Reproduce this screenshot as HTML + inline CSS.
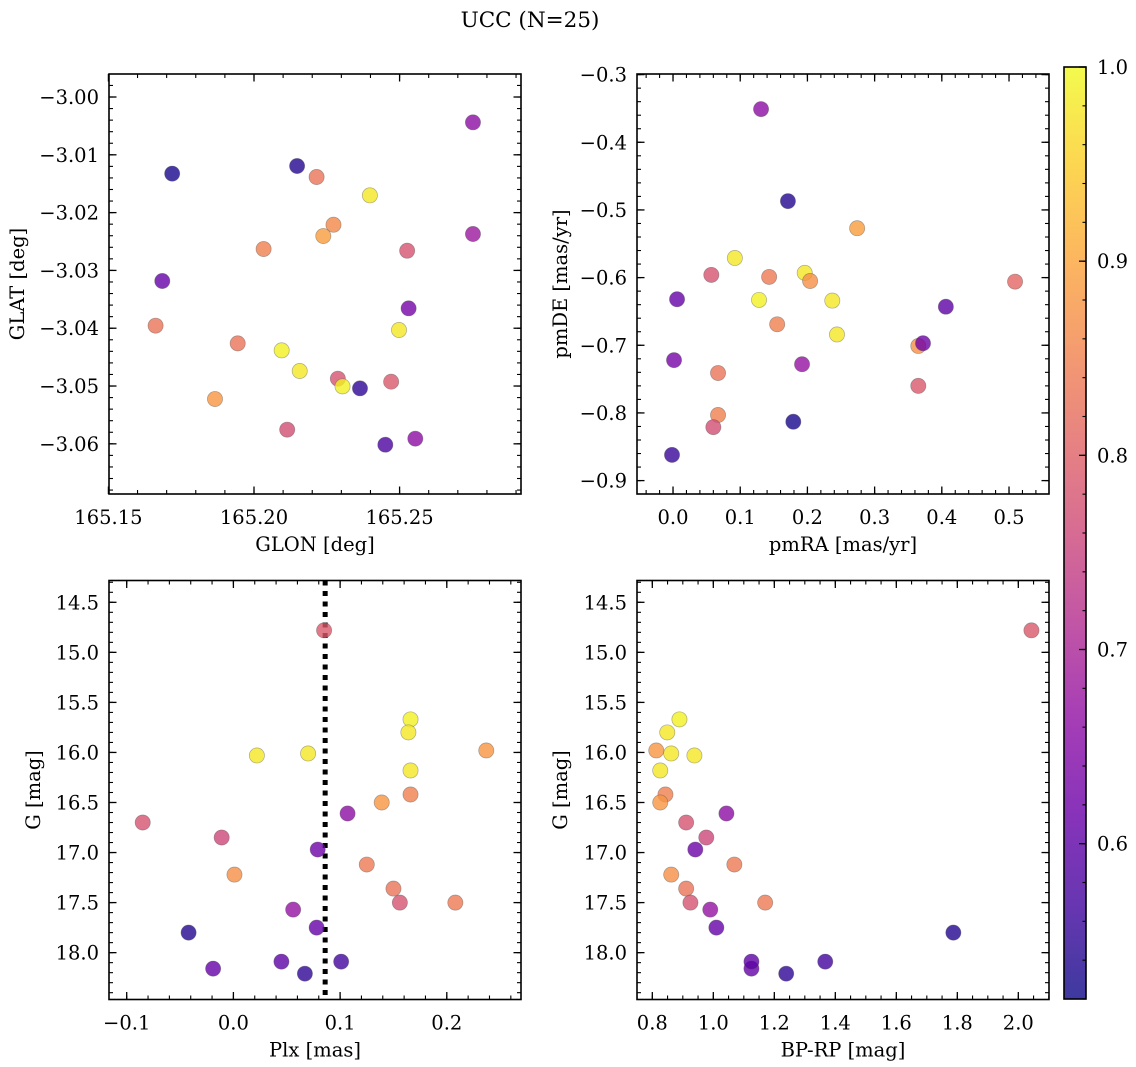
<!DOCTYPE html>
<html><head><meta charset="utf-8"><title>UCC (N=25)</title>
<style>
html,body{margin:0;padding:0;background:#fff;}
svg{display:block;font-family:"DejaVu Serif","Liberation Serif",serif;}
</style></head>
<body>
<svg id="fig" width="1136" height="1067" viewBox="0 0 1136 1067" xmlns="http://www.w3.org/2000/svg">
<defs>
<linearGradient id="plasmaGrad" x1="0" y1="1" x2="0" y2="0">
<stop offset="0" stop-color="#0d0887"/><stop offset="0.1" stop-color="#41049d"/><stop offset="0.2" stop-color="#6a00a8"/><stop offset="0.3" stop-color="#8f0da4"/><stop offset="0.4" stop-color="#b12a90"/><stop offset="0.5" stop-color="#cc4778"/><stop offset="0.6" stop-color="#e16462"/><stop offset="0.7" stop-color="#f2844b"/><stop offset="0.8" stop-color="#fca636"/><stop offset="0.9" stop-color="#fcce25"/><stop offset="1" stop-color="#f0f921"/>
</linearGradient>
</defs>
<text x="530" y="27" text-anchor="middle" font-size="21.5" fill="#000">UCC (N=25)</text>
</svg>
<script>
// ---------- data ----------
const glon = [165.1719,165.2148,165.2215,165.2398,165.2752,165.2273,165.2238,165.2033,165.2526,165.2752,165.1685,165.2531,165.1662,165.2498,165.1944,165.2095,165.2157,165.2288,165.2304,165.2364,165.2471,165.1866,165.2114,165.2451,165.2554];
const glat = [-3.01326,-3.01194,-3.01384,-3.01701,-3.00438,-3.02209,-3.02405,-3.0263,-3.02659,-3.0237,-3.03183,-3.03656,-3.03956,-3.04031,-3.04262,-3.04383,-3.0474,-3.04873,-3.05006,-3.0504,-3.04925,-3.05225,-3.05755,-3.06015,-3.05911];
const probA = [0.53,0.54,0.83,0.98,0.66,0.86,0.89,0.85,0.78,0.68,0.61,0.63,0.83,0.98,0.83,0.99,0.98,0.78,0.99,0.55,0.79,0.88,0.77,0.58,0.66];

const pmra = [0.131,0.171,0.274,0.092,0.057,0.143,0.196,0.204,0.006,0.128,0.237,0.406,0.509,0.155,0.244,0.365,0.372,0.0015,0.067,0.192,0.365,0.067,0.179,0.060,-0.0015];
const pmde = [-0.351,-0.487,-0.527,-0.571,-0.596,-0.599,-0.593,-0.605,-0.632,-0.633,-0.634,-0.643,-0.606,-0.669,-0.684,-0.701,-0.697,-0.722,-0.741,-0.728,-0.760,-0.803,-0.813,-0.821,-0.862];
const probB = [0.66,0.54,0.89,0.98,0.78,0.84,0.98,0.87,0.61,0.99,0.98,0.60,0.81,0.85,0.98,0.87,0.62,0.63,0.83,0.67,0.79,0.85,0.53,0.77,0.56];

const plx  = [0.085,0.166,0.164,0.237,0.022,0.070,0.166,0.166,0.139,0.107,-0.085,-0.011,0.079,0.125,0.001,0.150,0.156,0.208,0.056,-0.042,0.078,-0.019,0.045,0.101,0.067];
const gmag = [14.78,15.67,15.80,15.98,16.03,16.01,16.18,16.42,16.50,16.61,16.70,16.85,16.97,17.12,17.22,17.36,17.50,17.50,17.57,17.80,17.75,18.16,18.09,18.09,18.21];
const bprp = [2.043,0.889,0.849,0.813,0.938,0.862,0.826,0.843,0.826,1.043,0.911,0.977,0.941,1.069,0.862,0.911,0.925,1.170,0.990,1.787,1.010,1.125,1.125,1.367,1.239];
const probC = [0.79,0.99,0.98,0.88,0.98,0.98,0.98,0.85,0.88,0.66,0.78,0.76,0.62,0.84,0.87,0.83,0.78,0.84,0.67,0.54,0.61,0.61,0.60,0.57,0.55];

const plxLine = 0.086;

const p1XTicks = [165.15,165.20,165.25];
const p1XLabels = ["165.15","165.20","165.25"];
const p1YTicks = [-3.00,-3.01,-3.02,-3.03,-3.04,-3.05,-3.06];
const p1YLabels = ["\u22123.00","\u22123.01","\u22123.02","\u22123.03","\u22123.04","\u22123.05","\u22123.06"];
const p2XTicks = [0,0.1,0.2,0.3,0.4,0.5];
const p2XLabels = ["0.0","0.1","0.2","0.3","0.4","0.5"];
const p2YTicks = [-0.3,-0.4,-0.5,-0.6,-0.7,-0.8,-0.9];
const p2YLabels = ["\u22120.3","\u22120.4","\u22120.5","\u22120.6","\u22120.7","\u22120.8","\u22120.9"];
const p3XTicks = [-0.1,0,0.1,0.2];
const p3XLabels = ["\u22120.1","0.0","0.1","0.2"];
const gTicks = [14.5,15.0,15.5,16.0,16.5,17.0,17.5,18.0];
const gLabels = ["14.5","15.0","15.5","16.0","16.5","17.0","17.5","18.0"];
const p4XTicks = [0.8,1.0,1.2,1.4,1.6,1.8,2.0];
const p4XLabels = ["0.8","1.0","1.2","1.4","1.6","1.8","2.0"];
const cbTicks = [0.6,0.7,0.8,0.9,1.0];
const cbLabels = ["0.6","0.7","0.8","0.9","1.0"];

// ---------- helpers ----------
const NS = "http://www.w3.org/2000/svg";
const svg = document.getElementById("fig");
const VMIN = 0.52, VMAX = 1.0;
const FS = 19.5;
const plasma = ["#0d0887","#41049d","#6a00a8","#8f0da4","#b12a90","#cc4778","#e16462","#f2844b","#fca636","#fcce25","#f0f921"];
function hex(c){return [parseInt(c.slice(1,3),16),parseInt(c.slice(3,5),16),parseInt(c.slice(5,7),16)];}
function cmap(v){
  let t=(v-VMIN)/(VMAX-VMIN); t=Math.max(0,Math.min(1,t));
  const f=t*10, i=Math.min(9,Math.floor(f)), r=f-i;
  const a=hex(plasma[i]), b=hex(plasma[i+1]);
  return "rgb("+a.map((x,k)=>Math.round(x+(b[k]-x)*r)).join(",")+")";
}
function mk(tag, attrs, parent){
  const e=document.createElementNS(NS,tag);
  for(const k in attrs) e.setAttribute(k,attrs[k]);
  (parent||svg).appendChild(e);
  return e;
}

function panel(cfg){
  const g = mk("g",{});
  
  
  const {x,y,w,h,xmin,xmax,ytop,ybot} = cfg;
  const sx = v => x + (v-xmin)/(xmax-xmin)*w;
  const sy = v => y + (v-ytop)/(ybot-ytop)*h;
  const mg = mk("g",{stroke:"#000","stroke-width":1.1},g);
  
  
  const xs = Math.min(xmin,xmax), xe = Math.max(xmin,xmax);
  for(let k=Math.ceil(xs/cfg.xminor-1e-6); k*cfg.xminor<=xe+1e-9; k++){
    const px=sx(k*cfg.xminor);
    mk("line",{x1:px,y1:y+h,x2:px,y2:y+h-4},mg);
    mk("line",{x1:px,y1:y,x2:px,y2:y+4},mg);
  }
  const ys = Math.min(ytop,ybot), ye = Math.max(ytop,ybot);
  for(let k=Math.ceil(ys/cfg.yminor-1e-6); k*cfg.yminor<=ye+1e-9; k++){
    const py=sy(k*cfg.yminor);
    mk("line",{x1:x,y1:py,x2:x+4,y2:py},mg);
    mk("line",{x1:x+w,y1:py,x2:x+w-4,y2:py},mg);
  }
  cfg.xticks.forEach((v,i)=>{
    const px=sx(v);
    const t1=mk("line",{x1:px,y1:y+h,x2:px,y2:y+h-7.5,stroke:"#000","stroke-width":1.3},g);
    
    
    mk("line",{x1:px,y1:y,x2:px,y2:y+7.5,stroke:"#000","stroke-width":1.3},g);
    const tl=mk("text",{x:px,y:y+h+30,"text-anchor":"middle","font-size":FS},g);
    tl.textContent=cfg.xlabels[i];
    
    
  });
  cfg.yticks.forEach((v,i)=>{
    const py=sy(v);
    const t1=mk("line",{x1:x,y1:py,x2:x+7.5,y2:py,stroke:"#000","stroke-width":1.3},g);
    
    
    mk("line",{x1:x+w,y1:py,x2:x+w-7.5,y2:py,stroke:"#000","stroke-width":1.3},g);
    const tl=mk("text",{x:x-10,y:py+7,"text-anchor":"end","font-size":FS},g);
    tl.textContent=cfg.ylabels[i];
    
    
  });
  if(cfg.vline!==undefined){
    const vl=mk("line",{x1:sx(cfg.vline),y1:y,x2:sx(cfg.vline),y2:y+h,stroke:"#000","stroke-width":5,"stroke-dasharray":"5 5.5"},g);
    
    
  }
  const pg = mk("g",{},g);
  
  
  cfg.xs.forEach((v,i)=>{
    const c=mk("circle",{cx:sx(v),cy:sy(cfg.ys[i]),r:7.6,fill:cmap(cfg.cs[i]),"fill-opacity":0.8,stroke:"rgba(80,80,80,0.45)","stroke-width":0.7},pg);
    
    
  });
  const fr=mk("rect",{x:x,y:y,width:w,height:h,fill:"none",stroke:"#000","stroke-width":1.6},g);
  
  
  const xl=mk("text",{x:x+w/2,y:y+h+57,"text-anchor":"middle","font-size":FS},g);
  xl.textContent=cfg.xtitle;
  
  
  const yl=mk("text",{x:0,y:0,"text-anchor":"middle","font-size":FS,transform:"translate("+cfg.ylx+","+(y+h/2)+") rotate(-90)"},g);
  yl.textContent=cfg.ytitle;
  
  
}

panel({name:"glon-glat-panel",x:109,y:74,w:412,h:420,xmin:165.1502,xmax:165.2917,ytop:-2.99602,ybot:-3.06868,
  xminor:0.01,yminor:0.002,xticks:p1XTicks,xlabels:p1XLabels,yticks:p1YTicks,ylabels:p1YLabels,
  xs:glon,ys:glat,cs:probA,xtitle:"GLON [deg]",ytitle:"GLAT [deg]",ylx:24});
panel({name:"pm-panel",x:637,y:74,w:412,h:420,xmin:-0.0536,xmax:0.5595,ytop:-0.2991,ybot:-0.9198,
  xminor:0.02,yminor:0.02,xticks:p2XTicks,xlabels:p2XLabels,yticks:p2YTicks,ylabels:p2YLabels,
  xs:pmra,ys:pmde,cs:probB,xtitle:"pmRA [mas/yr]",ytitle:"pmDE [mas/yr]",ylx:567});
panel({name:"plx-g-panel",x:109,y:580.5,w:412,h:419,xmin:-0.11659,xmax:0.26954,ytop:14.2822,ybot:18.4681,
  xminor:0.02,yminor:0.1,xticks:p3XTicks,xlabels:p3XLabels,yticks:gTicks,ylabels:gLabels,
  xs:plx,ys:gmag,cs:probC,xtitle:"Plx [mas]",ytitle:"G [mag]",ylx:40,vline:plxLine});
panel({name:"cmd-panel",x:637,y:580.5,w:412,h:419,xmin:0.7498,xmax:2.1006,ytop:14.2822,ybot:18.4681,
  xminor:0.05,yminor:0.1,xticks:p4XTicks,xlabels:p4XLabels,yticks:gTicks,ylabels:gLabels,
  xs:bprp,ys:gmag,cs:probC,xtitle:"BP-RP [mag]",ytitle:"G [mag]",ylx:567});

// ---------- colorbar ----------
const cb = mk("g",{});


const CBX=1064, CBY=67, CBW=22, CBH=932;
const cy = v => CBY + (VMAX-v)/(VMAX-VMIN)*CBH;
mk("rect",{x:CBX,y:CBY,width:CBW,height:CBH,fill:"url(#plasmaGrad)","fill-opacity":0.8},cb);
for(let k=26;k<=50;k++){
  const v=k*0.02, py=cy(v);
  if(py<CBY-0.5||py>CBY+CBH+0.5) continue;
  mk("line",{x1:CBX+CBW,y1:py,x2:CBX+CBW-3.5,y2:py,stroke:"#000","stroke-width":1.1},cb);
}
cbTicks.forEach((v,i)=>{
  const py=cy(v);
  mk("line",{x1:CBX+CBW,y1:py,x2:CBX+CBW-7,y2:py,stroke:"#000","stroke-width":1.3},cb);
  const t=mk("text",{x:CBX+CBW+11,y:py+7,"font-size":FS},cb);
  t.textContent=cbLabels[i];
  
  
});
const cbf=mk("rect",{x:CBX,y:CBY,width:CBW,height:CBH,fill:"none",stroke:"#000","stroke-width":1.6},cb);


</script>
</body></html>
